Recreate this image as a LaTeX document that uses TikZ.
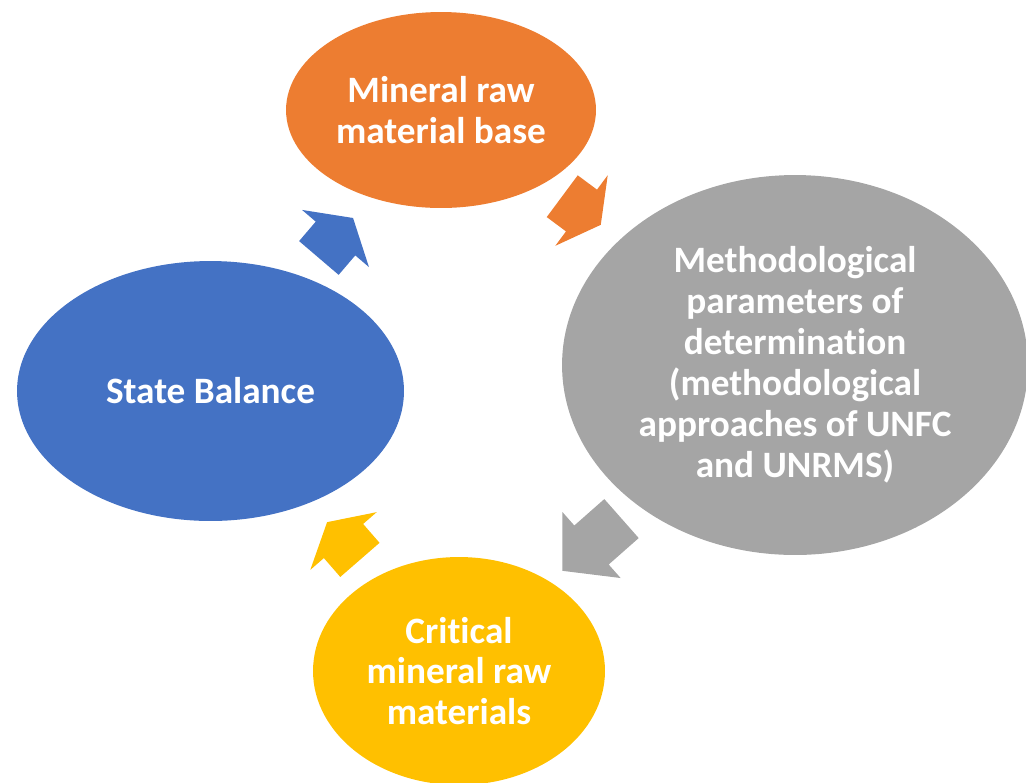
\documentclass[tikz,border=0pt]{standalone}
\usepackage{fontspec}
\setmainfont[Ligatures={NoCommon}]{Carlito}
\usetikzlibrary{shapes.geometric}
\usepackage{xcolor}
\definecolor{baseorange}{HTML}{ED7D31}
\definecolor{methodgrey}{HTML}{A5A5A5}
\definecolor{balanceblue}{HTML}{4472C4}
\definecolor{criticalgold}{HTML}{FFC000}
\tikzset{
  cyclenode/.style={ellipse, inner sep=0pt, text=white, align=center,
                    font=\fontsize{21.2}{23.3}\selectfont\bfseries},
  basenode/.style={cyclenode, fill=baseorange, minimum width=6.2cm, minimum height=3.92cm},
  methodnode/.style={cyclenode, fill=methodgrey, minimum width=9.32cm, minimum height=7.6cm},
  balancenode/.style={cyclenode, fill=balanceblue, minimum width=7.74cm, minimum height=5.2cm},
  criticalnode/.style={cyclenode, fill=criticalgold, minimum width=5.84cm, minimum height=4.56cm},
}

\begin{document}
\begin{tikzpicture}[x=0.02cm, y=-0.02cm]
  \useasboundingbox (0,0) rectangle (1026,782);

  % the four stages of the cycle
  \node[basenode] (base) at (441,110) {Mineral raw\\material base};
  \node[methodnode] (methods) at (795,365)
       {Methodological\\parameters of\\determination\\(methodological\\approaches of UNFC\\and UNRMS)};
  \node[balancenode] (balance) at (210.5,391) {State Balance};
  \node[criticalnode] (critical) at (459,671) {Critical\\mineral raw\\materials};

  % block arrows between the stages (colour/x/y/angle/body/head)
  \foreach \col/\cx/\cy/\ang/\bl/\hl in {balanceblue/335.5/238.5/49.5/25.6/27,
                                         baseorange/581.5/210.5/-36.6/24/24,
                                         methodgrey/591.5/545/-138.6/40/39,
                                         criticalgold/343.5/541/131/25/25}{
    \fill[\col, shift={(\cx,\cy)}, rotate=\ang]
      (-\bl,-26) -- (0,-26) -- (0,-44) -- (\hl,0) -- (0,44) -- (0,26) -- (-\bl,26) -- cycle;
  }
\end{tikzpicture}
\end{document}
